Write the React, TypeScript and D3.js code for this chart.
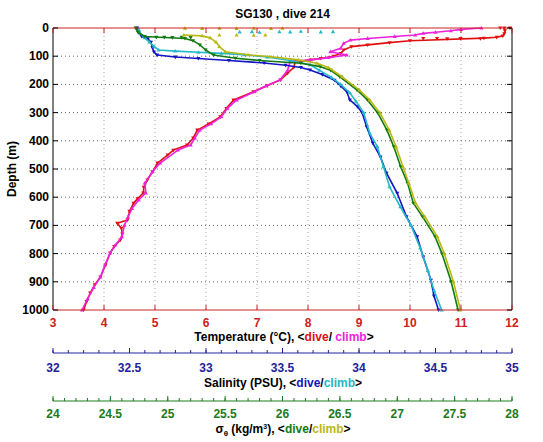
import React from "react";
import * as d3 from "d3";

// ---------- data (depth m, value) ----------
const tempDiveDepth = [0, 10, 20, 28, 33, 36, 45, 52, 60, 66, 78, 90, 100, 108, 113, 120, 140, 160, 184, 205, 226, 255, 285, 315, 340, 362, 390, 415, 433, 450, 479, 510, 539, 565, 585, 605, 621, 650, 681, 692, 710, 730, 752, 775, 798, 840, 883, 910, 940, 970, 1000];
const tempDive = [11.85, 11.86, 11.85, 11.82, 11.7, 11.45, 10.0, 9.6, 9.17, 8.85, 8.7, 8.64, 8.5, 8.25, 8.05, 7.75, 7.72, 7.6, 7.46, 7.2, 6.93, 6.54, 6.4, 6.28, 6.05, 5.83, 5.75, 5.63, 5.36, 5.25, 5.05, 4.95, 4.85, 4.78, 4.77, 4.66, 4.58, 4.5, 4.46, 4.26, 4.34, 4.36, 4.32, 4.2, 4.12, 4.03, 3.93, 3.82, 3.73, 3.66, 3.6];
const tempClimbDepth = [0, 5, 10, 15, 19, 25, 30, 37, 43, 54, 72, 84, 96, 105, 113, 120, 150, 184, 205, 226, 255, 285, 315, 340, 362, 390, 415, 433, 479, 510, 550, 585, 610, 640, 670, 700, 741, 770, 798, 840, 883, 920, 960, 1000];
const tempClimb = [11.4, 11.0, 10.8, 10.5, 10.26, 10.1, 9.7, 9.17, 8.83, 8.7, 8.64, 8.44, 8.76, 8.4, 8.05, 7.65, 7.6, 7.45, 7.18, 6.95, 6.6, 6.42, 6.3, 6.1, 5.88, 5.78, 5.7, 5.45, 5.1, 4.95, 4.8, 4.82, 4.68, 4.55, 4.47, 4.4, 4.35, 4.22, 4.12, 4.02, 3.93, 3.8, 3.68, 3.57];
const tempDiveSparseDepth = [37, 37, 38, 37, 38, 0, 0];
const tempDiveSparse = [10.26, 10.53, 10.73, 10.99, 11.38, 11.77, 11.96];

const salDiveDepth = [0, 15, 30, 38, 50, 70, 85, 96, 103, 108, 115, 124, 132, 140, 149, 165, 185, 205, 226, 255, 279, 300, 350, 408, 457, 515, 586, 669, 740, 812, 894, 950, 1000];
const salDive = [32.55, 32.56, 32.58, 32.62, 32.64, 32.65, 32.66, 32.68, 32.8, 32.95, 33.15, 33.38, 33.52, 33.62, 33.68, 33.76, 33.84, 33.88, 33.92, 33.94, 33.99, 34.02, 34.05, 34.09, 34.14, 34.18, 34.25, 34.31, 34.38, 34.42, 34.47, 34.49, 34.52];
const salClimbDepth = [5, 20, 35, 50, 65, 78, 82, 86, 90, 95, 103, 115, 130, 150, 175, 200, 230, 260, 300, 373, 421, 492, 563, 634, 700, 780, 860, 930, 1000];
const salClimb = [32.56, 32.57, 32.6, 32.63, 32.66, 32.69, 32.8, 32.95, 33.1, 33.25, 33.4, 33.55, 33.68, 33.74, 33.82, 33.88, 33.94, 33.98, 34.03, 34.07, 34.12, 34.16, 34.2, 34.27, 34.34, 34.4, 34.45, 34.49, 34.54];
const salClimbSparseDepth = [14, 13, 15, 13, 14, 12, 14, 13];
const salClimbSparse = [33.22, 33.3, 33.35, 33.48, 33.55, 33.62, 33.75, 33.83];

const sigDiveDepth = [0, 15, 30, 37, 45, 60, 78, 96, 107, 115, 125, 137, 150, 173, 220, 255, 301, 362, 421, 492, 550, 621, 669, 740, 800, 900, 1000];
const sigDive = [24.72, 24.74, 24.8, 25.15, 25.22, 25.28, 25.33, 25.4, 25.59, 25.8, 26.16, 26.33, 26.42, 26.5, 26.65, 26.74, 26.83, 26.91, 26.97, 27.03, 27.09, 27.14, 27.22, 27.33, 27.39, 27.47, 27.53];
const sigDiveSparseDepth = [33, 33, 34, 33, 34];
const sigDiveSparse = [24.9, 24.97, 25.04, 25.12, 25.2];
const sigClimbDepth = [25, 28, 35, 50, 66, 84, 95, 102, 113, 125, 140, 173, 220, 255, 301, 362, 421, 492, 550, 621, 669, 740, 800, 900, 1000];
const sigClimb = [25.14, 25.3, 25.37, 25.42, 25.45, 25.5, 25.7, 25.9, 26.14, 26.3, 26.4, 26.52, 26.67, 26.76, 26.85, 26.93, 26.99, 27.05, 27.1, 27.16, 27.24, 27.35, 27.41, 27.49, 27.55];
const sigClimbSparseDepth = [1, 2, 1, 2, 1, 2, 1, 25, 25, 26, 25];
const sigClimbSparse = [25.15, 25.3, 25.45, 25.6, 25.75, 25.9, 26.0, 25.45, 25.6, 25.75, 25.85];

const depthTicks = [0, 100, 200, 300, 400, 500, 600, 700, 800, 900, 1000];
const tempTicks = [3, 4, 5, 6, 7, 8, 9, 10, 11, 12];
const salTicks = [32, 32.5, 33, 33.5, 34, 34.5, 35];
const sigTicks = [24, 24.5, 25, 25.5, 26, 26.5, 27, 27.5, 28];

// ---------- layout ----------
const W = 543, H = 442;
const X0 = 53, X1 = 512, Y0 = 28, Y1 = 310;
const SAL_Y = 353, SIG_Y = 401;
const FONT = "'Liberation Sans', Arial, Helvetica, sans-serif";

const C = {
  tAxis: "#cc2222", sAxis: "#22229a", gAxis: "#1d7a1d",
  red: "#e01010", magenta: "#ee22dd", blue: "#1414c4", cyan: "#22b8c8", green: "#127a12", yellow: "#b8b812",
};

const y = d3.scaleLinear().domain([0, 1000]).range([Y0, Y1]);
const xT = d3.scaleLinear().domain([3, 12]).range([X0, X1]);
const xS = d3.scaleLinear().domain([32, 35]).range([X0, X1]);
const xG = d3.scaleLinear().domain([24, 28]).range([X0, X1]);

type Scale = d3.ScaleLinear<number, number>;

function Series({ depth, vals, x, color, down, line = true }: { depth: number[]; vals: number[]; x: Scale; color: string; down: boolean; line?: boolean }) {
  const pts: [number, number][] = depth.map((d, i) => [x(vals[i]), y(d)]);
  const path = d3.line()(pts) || "";
  const s = 2.1;
  const tri = (px: number, py: number) =>
    down
      ? `M${px - s},${py - s * 0.7}L${px + s},${py - s * 0.7}L${px},${py + s}Z`
      : `M${px - s},${py + s * 0.7}L${px + s},${py + s * 0.7}L${px},${py - s}Z`;
  return (
    <g>
      {line && <path d={path} fill="none" stroke={color} strokeWidth={1.6} strokeLinejoin="round" />}
      {pts.map((p, i) => (
        <path key={i} d={tri(p[0], p[1])} fill={color} />
      ))}
    </g>
  );
}

function BottomAxis({ scale, yPos, ticks, color, minorStep, labelDy, label }: { scale: Scale; yPos: number; ticks: number[]; color: string; minorStep: number; labelDy: number; label: React.ReactNode }) {
  const [a, b] = scale.domain();
  const minors = d3.range(a, b + minorStep / 2, minorStep);
  return (
    <g>
      <line x1={X0} x2={X1} y1={yPos} y2={yPos} stroke={color} strokeWidth={1} />
      {minors.map((m, i) => (
        <line key={"m" + i} x1={scale(m)} x2={scale(m)} y1={yPos} y2={yPos - 3} stroke={color} />
      ))}
      {ticks.map((t) => (
        <g key={t}>
          <line x1={scale(t)} x2={scale(t)} y1={yPos} y2={yPos - 5} stroke={color} />
          <text x={scale(t)} y={yPos + labelDy} textAnchor="middle" fill={color} fontSize={12} fontWeight="bold" fontFamily={FONT}>{t}</text>
        </g>
      ))}
      {label}
    </g>
  );
}

export default function App() {
  return (
    <svg width={W} height={H} style={{ position: "absolute", left: 0, top: 0, background: "#fff" }}>
      <rect x={0} y={0} width={W} height={H} fill="#fff" />
      {/* grid */}
      {tempTicks.slice(1, -1).map((t) => (
        <line key={"vg" + t} x1={xT(t)} x2={xT(t)} y1={Y0} y2={Y1} stroke="#c49a9a" strokeWidth={1} strokeDasharray="1,3" />
      ))}
      {depthTicks.slice(1, -1).map((d) => (
        <line key={"hg" + d} x1={X0} x2={X1} y1={y(d)} y2={y(d)} stroke="#666" strokeWidth={1} strokeDasharray="1,3" />
      ))}

      {/* data */}
      <Series depth={tempDiveSparseDepth} vals={tempDiveSparse} x={xT} color={C.red} down={true} line={false} />
      <Series depth={salClimbSparseDepth} vals={salClimbSparse} x={xS} color={C.cyan} down={false} line={false} />
      <Series depth={sigDiveSparseDepth} vals={sigDiveSparse} x={xG} color={C.green} down={true} line={false} />
      <Series depth={sigClimbSparseDepth} vals={sigClimbSparse} x={xG} color={C.yellow} down={false} line={false} />
      <Series depth={tempDiveDepth} vals={tempDive} x={xT} color={C.red} down={true} />
      <Series depth={tempClimbDepth} vals={tempClimb} x={xT} color={C.magenta} down={false} />
      <Series depth={salDiveDepth} vals={salDive} x={xS} color={C.blue} down={true} />
      <Series depth={salClimbDepth} vals={salClimb} x={xS} color={C.cyan} down={false} />
      <Series depth={sigDiveDepth} vals={sigDive} x={xG} color={C.green} down={true} />
      <Series depth={sigClimbDepth} vals={sigClimb} x={xG} color={C.yellow} down={false} />

      {/* box */}
      <line x1={X0} x2={X0} y1={Y0} y2={Y1} stroke="#000" />
      <line x1={X1} x2={X1} y1={Y0} y2={Y1} stroke="#000" />
      <line x1={X0} x2={X1} y1={Y0} y2={Y0} stroke={C.tAxis} />
      <line x1={X0} x2={X1} y1={Y1} y2={Y1} stroke={C.tAxis} />
      {tempTicks.map((t) => (
        <g key={"tt" + t}>
          <line x1={xT(t)} x2={xT(t)} y1={Y1} y2={Y1 - 5} stroke={C.tAxis} />
          <line x1={xT(t)} x2={xT(t)} y1={Y0} y2={Y0 + 5} stroke={C.tAxis} />
          <text x={xT(t)} y={Y1 + 17} textAnchor="middle" fill={C.tAxis} fontSize={12} fontWeight="bold" fontFamily={FONT}>{t}</text>
        </g>
      ))}
      {depthTicks.map((d) => (
        <g key={"dt" + d}>
          <line x1={X0} x2={X0 + 5} y1={y(d)} y2={y(d)} stroke="#000" />
          <line x1={X1} x2={X1 - 5} y1={y(d)} y2={y(d)} stroke="#000" />
          <text x={X0 - 4} y={y(d) + 4} textAnchor="end" fill="#000" fontSize={12} fontWeight="bold" fontFamily={FONT}>{d}</text>
        </g>
      ))}

      {/* titles */}
      <text x={(X0 + X1) / 2} y={18} textAnchor="middle" fontSize={12} fontWeight="bold" fontFamily={FONT} fill="#000">SG130 , dive 214</text>
      <text transform={`translate(16,${(Y0 + Y1) / 2}) rotate(-90)`} textAnchor="middle" fontSize={12} fontWeight="bold" fontFamily={FONT} fill="#000">Depth (m)</text>
      <text x={284} y={341} textAnchor="middle" fontSize={12} fontWeight="bold" fontFamily={FONT} fill="#000">
        Temperature (°C), &lt;<tspan fill={C.red}>dive</tspan>/ <tspan fill={C.magenta}>climb</tspan>&gt;
      </text>

      <BottomAxis scale={xS} yPos={SAL_Y} ticks={salTicks} color={C.sAxis} minorStep={0.1} labelDy={19}
        label={
          <text x={283} y={387} textAnchor="middle" fontSize={12} fontWeight="bold" fontFamily={FONT} fill="#000">
            Salinity (PSU), &lt;<tspan fill={C.blue}>dive</tspan>/<tspan fill={C.cyan}>climb</tspan>&gt;
          </text>
        } />
      <BottomAxis scale={xG} yPos={SIG_Y} ticks={sigTicks} color={C.gAxis} minorStep={0.1} labelDy={17}
        label={
          <text x={283} y={433} textAnchor="middle" fontSize={12} fontWeight="bold" fontFamily={FONT} fill="#000">
            σ<tspan fontSize={8} dy={3}>θ</tspan><tspan dy={-3}> (kg/m</tspan><tspan fontSize={7} dy={-4}>3</tspan><tspan dy={4}>), &lt;</tspan><tspan fill={C.green}>dive</tspan>/<tspan fill={C.yellow}>climb</tspan>&gt;
          </text>
        } />
    </svg>
  );
}
